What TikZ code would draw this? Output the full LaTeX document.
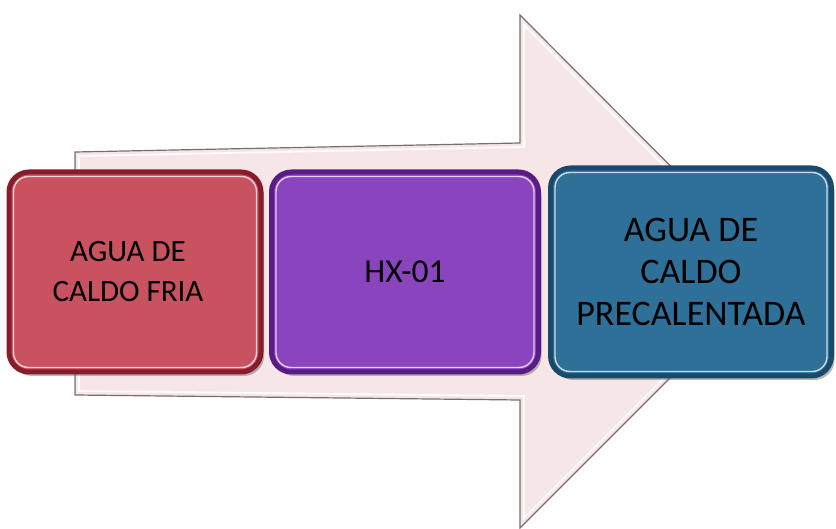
\documentclass[tikz,border=0pt]{standalone}
\usepackage{fontspec}
\setmainfont{Carlito}
\usetikzlibrary{calc,shadows}
\definecolor{arrowfill}{RGB}{247,230,232}
\definecolor{arrowedge}{RGB}{120,110,112}
\definecolor{redmain}{RGB}{200,82,95}
\definecolor{rededge}{RGB}{135,28,44}
\definecolor{purmain}{RGB}{138,68,190}
\definecolor{puredge}{RGB}{88,28,132}
\definecolor{blumain}{RGB}{47,112,153}
\definecolor{bluedge}{RGB}{26,74,106}
\tikzset{
  stagebox/.style={rounded corners=20pt, minimum width=#1, minimum height=200pt,
    line width=5pt, align=center, text=black,
    inner sep=0pt,
    drop shadow={shadow xshift=3pt, shadow yshift=-4pt, opacity=0.45, fill=black!60}},
  hilite/.style={rounded corners=15pt, line width=1.4pt, draw=white!75!#1},
}
\begin{document}
\begin{tikzpicture}[x=1pt,y=-1pt]
\useasboundingbox (0,0) rectangle (836,529);
% big arrow
\coordinate (a1) at (75,152);
\coordinate (a2) at (520,143);
\coordinate (a3) at (520,15);
\coordinate (a4) at (776,272);
\coordinate (a5) at (520,528);
\coordinate (a6) at (520,400);
\coordinate (a7) at (75,395);
\filldraw[fill=arrowfill, draw=arrowedge, line width=1.2pt]
  (a1) -- (a2) -- (a3) -- (a4) -- (a5) -- (a6) -- (a7) -- cycle;
\draw[white, line width=1.6pt]
  (79,156) -- (524,147) -- (524,25) -- (770,272) -- (524,518) -- (524,396) -- (79,391) -- cycle;
% boxes
\node[stagebox=252pt, fill=redmain, draw=rededge, font=\fontsize{31}{40}\selectfont] (cold) at (135,272) {\hspace*{-14pt}AGUA DE\\\hspace*{-14pt}CALDO FRIA};
\node[stagebox=267pt, fill=purmain, draw=puredge, font=\fontsize{33.5}{40}\selectfont] (hx) at (405,272) {HX-01};
\node[stagebox=281pt, fill=blumain, draw=bluedge, minimum height=208pt, font=\fontsize{36}{42}\selectfont] (hot) at (691,272) {AGUA DE\\CALDO\\PRECALENTADA};
% bevel highlights
\draw[hilite=redmain] ($(cold.north west)+(7,7)$) rectangle ($(cold.south east)+(-7,-7)$);
\draw[hilite=purmain] ($(hx.north west)+(7,7)$) rectangle ($(hx.south east)+(-7,-7)$);
\draw[hilite=blumain] ($(hot.north west)+(7,7)$) rectangle ($(hot.south east)+(-7,-7)$);
\end{tikzpicture}
\end{document}
